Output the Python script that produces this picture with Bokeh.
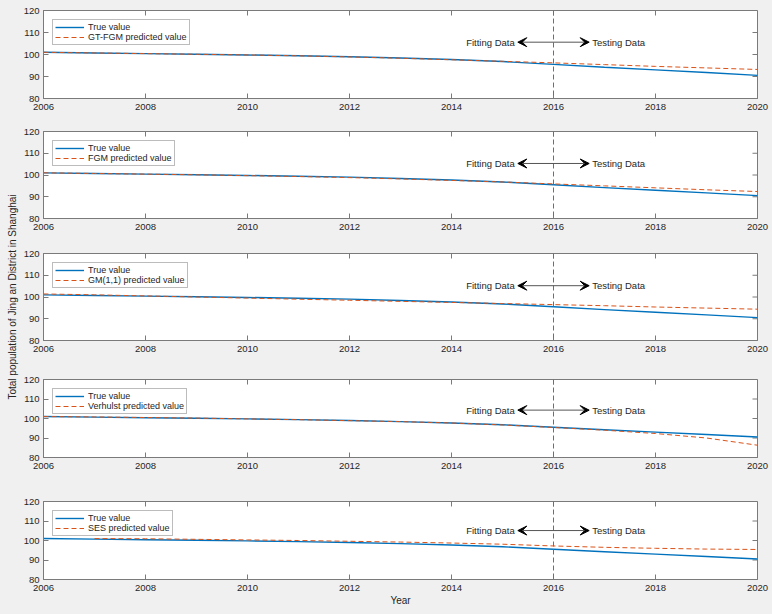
import math
from bokeh.plotting import figure
from bokeh.models import Range1d, FixedTicker, Span, Label, Arrow, VeeHead
from bokeh.layouts import column, row
from bokeh.embed import file_html
from bokeh.resources import INLINE

# ---------------- data ----------------
years = [2006, 2007, 2008, 2009, 2010, 2011, 2012, 2013, 2014, 2015, 2016, 2017, 2018, 2019, 2020]
true_value = [101.0, 100.7, 100.4, 100.1, 99.8, 99.4, 99.0, 98.4, 97.7, 96.8, 95.5, 94.2, 93.0, 91.8, 90.5]
gtfgm_pred = [101.0, 100.7, 100.4, 100.1, 99.8, 99.4, 98.9, 98.3, 97.6, 96.9, 96.2, 95.4, 94.6, 93.9, 93.2]
fgm_pred = [101.0, 100.7, 100.4, 100.1, 99.7, 99.3, 98.8, 98.2, 97.5, 96.8, 95.9, 95.0, 94.1, 93.2, 92.4]
gm11_pred = [101.4, 101.0, 100.5, 100.0, 99.5, 99.0, 98.5, 98.0, 97.5, 97.0, 96.5, 96.0, 95.4, 94.9, 94.4]
verhulst_pred = [101.0, 100.8, 100.5, 100.2, 99.8, 99.4, 98.9, 98.4, 97.7, 96.7, 95.4, 94.0, 92.3, 90.0, 86.3]
ses_years = [2007, 2008, 2009, 2010, 2011, 2012, 2013, 2014, 2015, 2016, 2017, 2018, 2019, 2020]
ses_pred = [101.0, 100.9, 100.6, 100.3, 100.0, 99.6, 99.2, 98.7, 98.1, 97.2, 96.5, 96.0, 95.6, 95.4]

x_ticks = [2006, 2008, 2010, 2012, 2014, 2016, 2018, 2020]
y_ticks = [80, 90, 100, 110, 120]
split_year = 2016
x_lo, x_hi = 2006, 2020
y_lo, y_hi = 80, 120

panels = [
    ("GT-FGM predicted value", years, gtfgm_pred),
    ("FGM predicted value", years, fgm_pred),
    ("GM(1,1) predicted value", years, gm11_pred),
    ("Verhulst predicted value", years, verhulst_pred),
    ("SES predicted value", ses_years, ses_pred),
]

# layout: (top border, frame height, bottom border, arrow y)
geom = [(10, 88, 22, 105.6), (11, 87, 22, 105.3), (13, 87, 22, 105.2), (17, 78, 27, 104.3), (17, 78, 32, 105.1)]
FRAME_W = 716
LEFT_B = 21
RIGHT_B = 12
LABEL_W = 20
TICK_LEN = 5

BLUE = "#0072BD"
ORANGE = "#D95319"
AX = "#7a7a7a"
TXT = "#262626"
BG = "#f0f0f0"
FONT = "Liberation Sans"
FS = "9.5px"


def make_panel(i):
    name, px, py = panels[i]
    top, fh, bot, ay = geom[i]
    p = figure(width=LEFT_B + FRAME_W + RIGHT_B, height=top + fh + bot,
               x_range=Range1d(x_lo, x_hi), y_range=Range1d(y_lo, y_hi),
               output_backend="svg", toolbar_location=None,
               min_border_left=LEFT_B, min_border_right=RIGHT_B,
               min_border_top=top, min_border_bottom=bot)
    p.border_fill_color = BG
    p.background_fill_color = "white"
    p.outline_line_color = AX
    p.outline_line_width = 1
    p.grid.visible = False

    for ax in (p.xaxis[0], p.yaxis[0]):
        ax.major_tick_in = TICK_LEN
        ax.major_tick_out = 0
        ax.minor_tick_line_color = None
        ax.axis_line_color = AX
        ax.major_tick_line_color = AX
        ax.major_label_text_font = FONT
        ax.major_label_text_font_size = FS
        ax.major_label_text_color = TXT
    p.xaxis.major_label_standoff = 5
    p.yaxis.major_label_standoff = 4
    p.xaxis.ticker = FixedTicker(ticks=x_ticks)
    p.yaxis.ticker = FixedTicker(ticks=y_ticks)

    if i == 4:
        p.xaxis.axis_label = "Year"
        p.xaxis.axis_label_standoff = 1
        p.xaxis.axis_label_text_font = FONT
        p.xaxis.axis_label_text_font_size = "10px"
        p.xaxis.axis_label_text_font_style = "normal"
        p.xaxis.axis_label_text_color = TXT

    # inward ticks on the top and right edges of the box
    dy = TICK_LEN * (y_hi - y_lo) / fh
    dx = TICK_LEN * (x_hi - x_lo) / FRAME_W
    p.segment(x0=x_ticks, y0=[y_hi] * len(x_ticks), x1=x_ticks, y1=[y_hi - dy] * len(x_ticks),
              line_color=AX, line_width=1)
    p.segment(x0=[x_hi] * len(y_ticks), y0=y_ticks, x1=[x_hi - dx] * len(y_ticks), y1=y_ticks,
              line_color=AX, line_width=1)

    p.line(years, true_value, line_color=BLUE, line_width=1.4, legend_label="True value")
    p.line(px, py, line_color=ORANGE, line_width=1.0, line_dash="5 3", legend_label=name)

    p.add_layout(Span(location=split_year, dimension="height", line_color="#6e6e6e",
                      line_width=1, line_dash="5 3"))
    p.add_layout(Arrow(start=VeeHead(size=9, fill_color="black", line_color="black"),
                       end=VeeHead(size=9, fill_color="black", line_color="black"),
                       x_start=split_year - 0.7, x_end=split_year + 0.7, y_start=ay, y_end=ay,
                       line_color="#555555", line_width=1))
    p.add_layout(Label(x=split_year - 0.76, y=ay, text="Fitting Data", text_align="right",
                       text_baseline="middle", text_font=FONT, text_font_size=FS, text_color=TXT))
    p.add_layout(Label(x=split_year + 0.76, y=ay, text="Testing Data", text_align="left",
                       text_baseline="middle", text_font=FONT, text_font_size=FS, text_color=TXT))

    lg = p.legend[0]
    lg.location = "top_left"
    lg.margin = 9
    lg.padding = 2
    lg.spacing = 0
    lg.label_height = 10
    lg.glyph_height = 10
    lg.glyph_width = 29
    lg.label_standoff = 4
    lg.label_text_font = FONT
    lg.label_text_font_size = "9px"
    lg.label_text_color = TXT
    lg.border_line_color = AX
    lg.border_line_width = 1
    lg.background_fill_color = "white"
    lg.background_fill_alpha = 1
    return p


figs = [make_panel(i) for i in range(5)]
total_h = sum(g[0] + g[1] + g[2] for g in geom)

# shared y-axis label in a narrow strip on the left
lab = figure(width=LABEL_W, height=total_h, x_range=Range1d(0, 1), y_range=Range1d(0, 1),
             output_backend="svg", toolbar_location=None, min_border=0)
lab.axis.visible = False
lab.grid.visible = False
lab.outline_line_color = None
lab.background_fill_color = BG
lab.border_fill_color = BG
mid3 = (sum(g[0] + g[1] + g[2] for g in geom[3:]) + geom[2][2] + geom[2][1] / 2) / total_h
lab.add_layout(Label(x=0.6, y=mid3, text="Total population of Jing an District in Shanghai",
                     angle=math.pi / 2, text_align="center", text_baseline="middle",
                     text_font=FONT, text_font_size="10px", text_color=TXT))

layout = row(lab, column(*figs, spacing=0), spacing=0)
html = file_html(layout, INLINE)
html = html.replace("<head>", "<head><style>html,body{background:#f0f0f0;}</style>", 1)
open("out.html", "w").write(html)
